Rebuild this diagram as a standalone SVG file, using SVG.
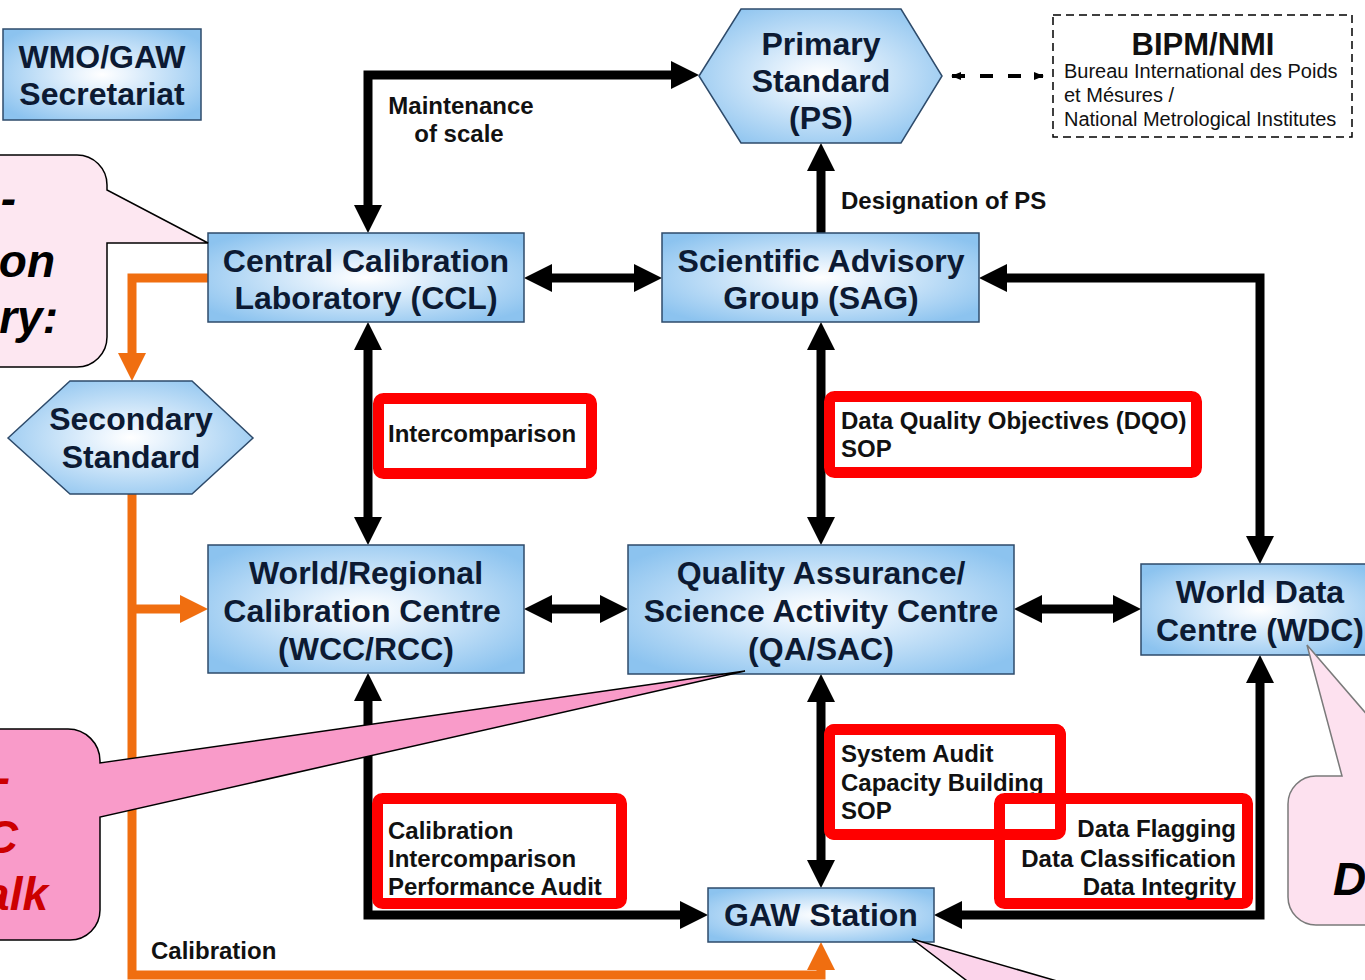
<svg xmlns="http://www.w3.org/2000/svg" width="1365" height="980" viewBox="0 0 1365 980">
  <defs>
    <radialGradient id="nodeFill" cx="0.5" cy="0.5" r="0.62">
      <stop offset="0" stop-color="#ffffff"/>
      <stop offset="0.2" stop-color="#eaf4fd"/>
      <stop offset="1" stop-color="#8cc3ef"/>
    </radialGradient>
    <marker id="ah" viewBox="0 0 28 28" refX="14" refY="14" markerWidth="28" markerHeight="28" markerUnits="userSpaceOnUse" orient="auto-start-reverse">
      <path d="M0,0 L28,14 L0,28 z" fill="#000"/>
    </marker>
    <marker id="ahOrange" viewBox="0 0 28 28" refX="14" refY="14" markerWidth="28" markerHeight="28" markerUnits="userSpaceOnUse" orient="auto-start-reverse">
      <path d="M0,0 L28,14 L0,28 z" fill="#f06e10"/>
    </marker>
    <marker id="ahSmall" viewBox="0 0 10 8" refX="9" refY="4" markerWidth="10" markerHeight="8" markerUnits="userSpaceOnUse" orient="auto-start-reverse">
      <path d="M0,0 L10,4 L0,8 z" fill="#000"/>
    </marker>
    <style>
      .node { fill: url(#nodeFill); stroke: #2e4b6b; stroke-width: 1.5; }
      .nt { font-family: "Liberation Sans", Arial, sans-serif; font-weight: bold; font-size: 32px; fill: #0c1a33; text-anchor: middle; }
      .lbl { font-family: "Liberation Sans", Arial, sans-serif; font-weight: bold; font-size: 24px; fill: #111; }
      .link { fill: none; stroke: #000; stroke-width: 9; marker-start: url(#ah); marker-end: url(#ah); }
      .one { marker-start: none; }
      .cal { fill: none; stroke: #f06e10; stroke-width: 9; marker-end: url(#ahOrange); }
      .red { fill: #fff; stroke: #ff0000; stroke-width: 11; }
      .redline { fill: none; stroke: #ff0000; stroke-width: 11; }
      .big { font-family: "Liberation Sans", Arial, sans-serif; font-weight: bold; font-style: italic; font-size: 46px; }
    </style>
  </defs>

  <rect width="1365" height="980" fill="#fff"/>

  <!-- connectors -->
  <g id="connectors">
    <!-- calibration chain (orange) -->
    <path class="cal" d="M208,278 H132 V367"/>
    <path class="cal" d="M132,494 V975 H821 V956"/>
    <path class="cal" d="M132,609 H194"/>
    <!-- black links -->
    <path class="link" d="M368,219 V75 H685"/>
    <path class="link one" d="M821,233 V157"/>
    <path class="link" d="M538,278 H648"/>
    <path class="link" d="M368,336 V531"/>
    <path class="link" d="M821,336 V531"/>
    <path class="link" d="M993,278 H1260 V550"/>
    <path class="link" d="M538,609 H614"/>
    <path class="link" d="M1028,609 H1127"/>
    <path class="link" d="M368,687 V915 H694"/>
    <path class="link" d="M821,688 V874"/>
    <path class="link" d="M948,915 H1260 V669"/>
    <!-- link to the metrology institutes -->
    <path d="M952,76 H1043" fill="none" stroke="#000" stroke-width="4" stroke-dasharray="13 15" marker-start="url(#ahSmall)" marker-end="url(#ahSmall)"/>
    <!-- labels on the links -->
    <text class="lbl" x="461" y="114" text-anchor="middle">Maintenance</text>
    <text class="lbl" x="459" y="142" text-anchor="middle">of scale</text>
    <text class="lbl" x="841" y="209">Designation of PS</text>
    <text class="lbl" x="151" y="959">Calibration</text>
  </g>

  <!-- activities on the links (red frames) -->
  <g id="activities">
    <rect class="red" x="378.5" y="398.5" width="213" height="75" rx="5"/>
    <text class="lbl" x="388" y="442">Intercomparison</text>

    <rect class="red" x="829.5" y="396.5" width="367" height="76" rx="5"/>
    <text class="lbl" x="841" y="429">Data Quality Objectives (DQO)</text>
    <text class="lbl" x="841" y="457">SOP</text>

    <rect class="red" x="829.5" y="729.5" width="231" height="105" rx="5"/>
    <text class="lbl" x="841" y="762">System Audit</text>
    <text class="lbl" x="841" y="791">Capacity Building</text>
    <text class="lbl" x="841" y="819">SOP</text>

    <rect class="red" x="999.5" y="798.5" width="248" height="105" rx="5"/>
    <rect class="redline" x="829.5" y="729.5" width="231" height="105" rx="5"/>
    <text class="lbl" x="1236" y="837" text-anchor="end">Data Flagging</text>
    <text class="lbl" x="1236" y="867" text-anchor="end">Data Classification</text>
    <text class="lbl" x="1236" y="895" text-anchor="end">Data Integrity</text>

    <rect class="red" x="377.5" y="798.5" width="244" height="105" rx="5"/>
    <text class="lbl" x="388" y="839">Calibration</text>
    <text class="lbl" x="388" y="867">Intercomparison</text>
    <text class="lbl" x="388" y="895">Performance Audit</text>
  </g>

  <!-- nodes -->
  <g id="wmo-gaw">
    <rect class="node" x="3" y="29" width="198" height="91"/>
    <text class="nt" x="102" y="68">WMO/GAW</text>
    <text class="nt" x="102" y="105">Secretariat</text>
  </g>

  <g id="primary-standard">
    <polygon class="node" points="699,76 741,9 901,9 942,76 901,143 741,143"/>
    <text class="nt" x="821" y="55">Primary</text>
    <text class="nt" x="821" y="92">Standard</text>
    <text class="nt" x="821" y="129">(PS)</text>
  </g>

  <g id="bipm-nmi">
    <rect x="1053" y="15" width="299" height="122" fill="#fff" stroke="#000" stroke-width="1.5" stroke-dasharray="8 5"/>
    <text x="1203" y="55" text-anchor="middle" font-family="Liberation Sans, Arial, sans-serif" font-weight="bold" font-size="31" fill="#111">BIPM/NMI</text>
    <text x="1064" y="78" font-family="Liberation Sans, Arial, sans-serif" font-size="20" fill="#111">Bureau International des Poids</text>
    <text x="1064" y="102" font-family="Liberation Sans, Arial, sans-serif" font-size="20" fill="#111">et Mésures /</text>
    <text x="1064" y="126" font-family="Liberation Sans, Arial, sans-serif" font-size="20" fill="#111">National Metrological Institutes</text>
  </g>

  <g id="ccl">
    <rect class="node" x="208" y="233" width="316" height="89"/>
    <text class="nt" x="366" y="272">Central Calibration</text>
    <text class="nt" x="366" y="309">Laboratory (CCL)</text>
  </g>

  <g id="sag">
    <rect class="node" x="662" y="233" width="317" height="89"/>
    <text class="nt" x="821" y="272">Scientific Advisory</text>
    <text class="nt" x="821" y="309">Group (SAG)</text>
  </g>

  <g id="secondary-standard">
    <polygon class="node" points="8,438 70,381 192,381 253,438 192,494 70,494"/>
    <text class="nt" x="131" y="430">Secondary</text>
    <text class="nt" x="131" y="468">Standard</text>
  </g>

  <g id="wcc-rcc">
    <rect class="node" x="208" y="545" width="316" height="128"/>
    <text class="nt" x="366" y="584">World/Regional</text>
    <text class="nt" x="362" y="622">Calibration Centre</text>
    <text class="nt" x="366" y="660">(WCC/RCC)</text>
  </g>

  <g id="qa-sac">
    <rect class="node" x="628" y="545" width="386" height="129"/>
    <text class="nt" x="821" y="584">Quality Assurance/</text>
    <text class="nt" x="821" y="622">Science Activity Centre</text>
    <text class="nt" x="821" y="660">(QA/SAC)</text>
  </g>

  <g id="wdc">
    <rect class="node" x="1141" y="564" width="238" height="91"/>
    <text class="nt" x="1260" y="603">World Data</text>
    <text class="nt" x="1260" y="641">Centre (WDC)</text>
  </g>

  <g id="gaw-station">
    <rect class="node" x="708" y="888" width="226" height="54"/>
    <text class="nt" x="821" y="926">GAW Station</text>
  </g>

  <!-- speech bubbles -->
  <g id="bubble-ccl">
    <path d="M-20,155 H77 A30,30 0 0 1 107,185 V190 L208,243 L107,243 V337 A30,30 0 0 1 77,367 H-20 Z" fill="#fde7f1" stroke="#000" stroke-width="1.5"/>
    <text class="big" x="16" y="214" text-anchor="end" fill="#000">-</text>
    <text class="big" x="55" y="277" text-anchor="end" fill="#000">on</text>
    <text class="big" x="58" y="333" text-anchor="end" fill="#000">ry:</text>
  </g>

  <g id="bubble-qa-sac">
    <path d="M-20,729 H68 A32,32 0 0 1 100,761 V763 L745,671 L100,817 V910 A30,30 0 0 1 70,940 H-20 Z" fill="#f99bc9" stroke="#000" stroke-width="1.5"/>
    <text class="big" x="10" y="793" text-anchor="end" fill="#cc0000">-</text>
    <text class="big" x="18" y="853" text-anchor="end" fill="#cc0000">C</text>
    <text class="big" x="48" y="910" text-anchor="end" fill="#cc0000">alk</text>
  </g>

  <g id="bubble-wdc">
    <path d="M1420,776 L1307,645 L1342,776 H1316 A28,28 0 0 0 1288,804 V897 A28,28 0 0 0 1316,925 H1420 Z" fill="#fde1ef" stroke="#7a7a7a" stroke-width="1.5"/>
    <text class="big" x="1333" y="895" fill="#000">D</text>
  </g>

  <g id="bubble-gaw">
    <path d="M912,939 L979,990 L1088,990 Z" fill="#fbd3ea" stroke="#000" stroke-width="1.5"/>
  </g>
</svg>
